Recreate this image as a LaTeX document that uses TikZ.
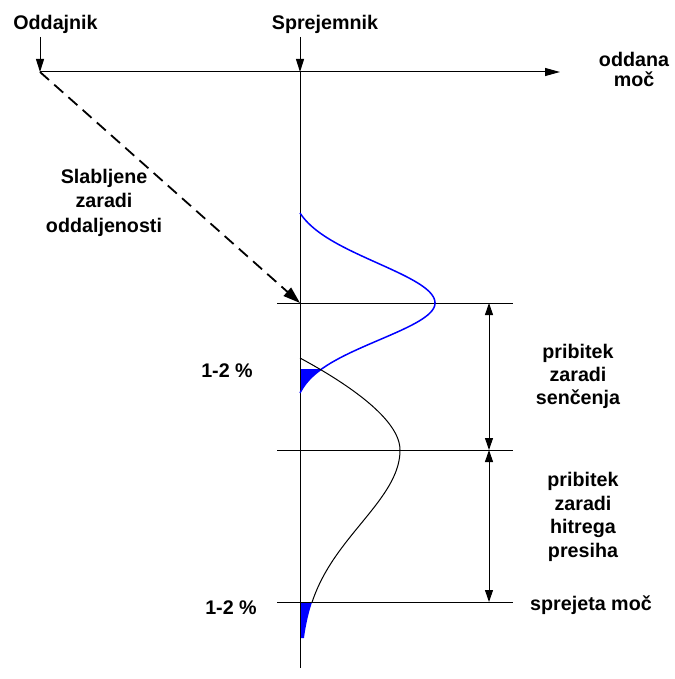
\documentclass[tikz,border=0pt]{standalone}
\usepackage{fontspec}
\setmainfont{Liberation Sans}
\usetikzlibrary{arrows.meta}
\begin{document}
\begin{tikzpicture}[x=1pt,y=-1pt,
  lbl/.style={font=\fontsize{19.7}{23.7}\selectfont\bfseries, inner sep=0pt, align=center},
  ln/.style={line width=1pt},
  smallarrow/.style={ln,-{Triangle[length=13pt,width=8pt]}},
  dimarrow/.style={ln,{Triangle[length=12pt,width=8pt]}-{Triangle[length=12pt,width=8pt]}},
  distarrow/.style={line width=1.8pt,dash pattern=on 12pt off 7pt,-{Triangle[length=17pt,width=11pt]}},
  bluecurve/.style={blue,line width=1.5pt},
  blackcurve/.style={line width=1pt}
]
\useasboundingbox (0,0) rectangle (674,679);

% labels
\node[lbl,anchor=base] (odd) at (55.5,30) {Oddajnik};
\node[lbl,anchor=base] (spr) at (325,29.5) {Sprejemnik};
\node[lbl,anchor=north,font=\fontsize{19.7}{20.5}\selectfont\bfseries] (oddana) at (634,52) {oddana\\mo\v{c}};
\node[lbl,anchor=north,font=\fontsize{19.7}{24.5}\selectfont\bfseries] (slab) at (104,168.9) {Slabljene\\zaradi\\oddaljenosti};
\node[lbl,anchor=north,font=\fontsize{19.7}{23.3}\selectfont\bfseries] (senc) at (578,343.9) {pribitek\\zaradi\\sen\v{c}enja};
\node[lbl,anchor=north] (hitr) at (583,471.9) {pribitek\\zaradi\\hitrega\\presiha};
\node[lbl,anchor=base] (sprm) at (591,610.5) {sprejeta mo\v{c}};
\node[lbl,anchor=base] (pa) at (227,377) {1-2 \%};
\node[lbl,anchor=base] (pb) at (231,614) {1-2 \%};

% coordinates
\coordinate (ts) at (40,37);
\coordinate (tx) at (40,72);
\coordinate (rs) at (300,37);
\coordinate (rx) at (300,72);
\coordinate (axend) at (560,72);
\coordinate (rbot) at (300,668);
\coordinate (p1) at (300,303);
\coordinate (l1a) at (277,303);
\coordinate (l1b) at (513,303);
\coordinate (l2a) at (277,450);
\coordinate (l2b) at (513,450);
\coordinate (l3a) at (277,602);
\coordinate (l3b) at (513,602);
\coordinate (d1) at (489,303);
\coordinate (d2) at (489,450);
\coordinate (d3) at (489,602);
\coordinate (bs) at (300,358);
\coordinate (bpk) at (400,450);

% blue fills
\fill[blue] (300,369) -- plot[domain=66:90,samples=20] ({300+135*(exp(-0.5*(\x/37)^2)-0.0519)/0.9481},{303+\x}) -- cycle;
\fill[blue] (300,602) -- plot[domain=152:188,samples=20] ({300+100*exp(-0.5*(\x/74)^2)},{450+\x}) -- (300,638) -- cycle;

% axes
\draw[smallarrow] (ts) -- (tx);
\draw[smallarrow] (rs) -- (rx);
\draw[ln,-{Triangle[length=15pt,width=8pt]}] (tx) -- (axend);
\draw[ln] (rx) -- (rbot);

% horizontal levels
\draw[ln] (l1a) -- (l1b);
\draw[ln] (l2a) -- (l2b);
\draw[ln] (l3a) -- (l3b);

% dimension arrows
\draw[dimarrow] (d1) -- (d2);
\draw[dimarrow] (d2) -- (d3);

% distance attenuation
\draw[distarrow] (tx) -- (p1);

% blue distribution
\draw[bluecurve] plot[domain=-90:0,samples=60] ({300+135*(exp(-0.5*(\x/40)^2)-0.0796)/0.9204},{303+\x})
  -- plot[domain=0:90,samples=60] ({300+135*(exp(-0.5*(\x/37)^2)-0.0519)/0.9481},{303+\x});

% black distribution
\draw[blackcurve] (bs) .. controls (350,385) and (400,420) .. (bpk);
\draw[blackcurve] plot[domain=0:152,samples=60] ({300+100*exp(-0.5*(\x/74)^2)},{450+\x});
\end{tikzpicture}
\end{document}
